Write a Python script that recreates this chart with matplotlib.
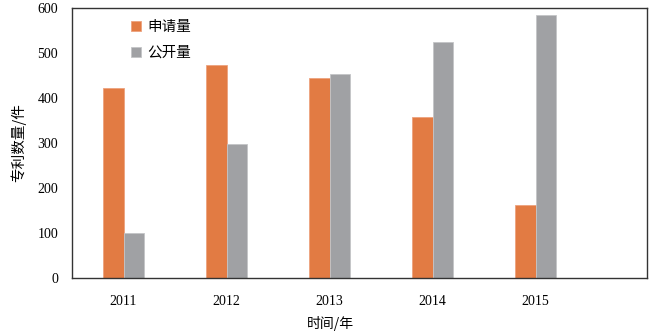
import matplotlib
matplotlib.use("Agg")
import matplotlib.pyplot as plt
import numpy as np

years = ["2011", "2012", "2013", "2014", "2015"]
applications = [422, 474, 444, 357, 162]
publications = [100, 297, 453, 525, 585]
series_names = ["申请量", "公开量"]

cjk = ["Noto Sans CJK SC", "DejaVu Sans"]
num_font = "Liberation Serif"

fig = plt.figure(figsize=(6.63, 3.34), dpi=100)
ax = fig.add_axes([72 / 663, 1 - 278 / 334, (647 - 72) / 663, (278 - 8) / 334])

x = np.arange(len(years))
w = 0.2
ax.bar(x - w / 2, applications, width=w, color="#E27B43", edgecolor="#EDA27E",
       linewidth=0.6, label=series_names[0])
ax.bar(x + w / 2, publications, width=w, color="#A0A1A4", edgecolor="#C4C5C7",
       linewidth=0.6, label=series_names[1])

ax.set_xlim(-0.5, 5.08)
ax.set_ylim(0, 600)
ax.set_xticks(x)
ax.set_xticklabels(years, fontfamily=num_font, fontsize=10)
ax.set_yticks(range(0, 601, 100))
ax.set_yticklabels([str(v) for v in range(0, 601, 100)], fontfamily=num_font, fontsize=10)
ax.tick_params(axis="both", length=0)
ax.tick_params(axis="x", pad=12)
ax.tick_params(axis="y", pad=10)

for s in ax.spines.values():
    s.set_color("#333333")
    s.set_linewidth(1.0)

ax.set_ylabel("专利数量/件", fontfamily=cjk, fontsize=10.5, labelpad=8)
ax.set_xlabel("时间/年", fontfamily=cjk, fontsize=10)
ax.xaxis.set_label_coords((330 - 72) / 575, -0.14)

leg = ax.legend(loc="upper left", bbox_to_anchor=(0.08, 1.003), frameon=False,
                prop={"family": cjk, "size": 10.5}, handlelength=0.7, handleheight=0.7,
                handletextpad=0.4, labelspacing=0.8)

fig.savefig("out.png", dpi=100)
